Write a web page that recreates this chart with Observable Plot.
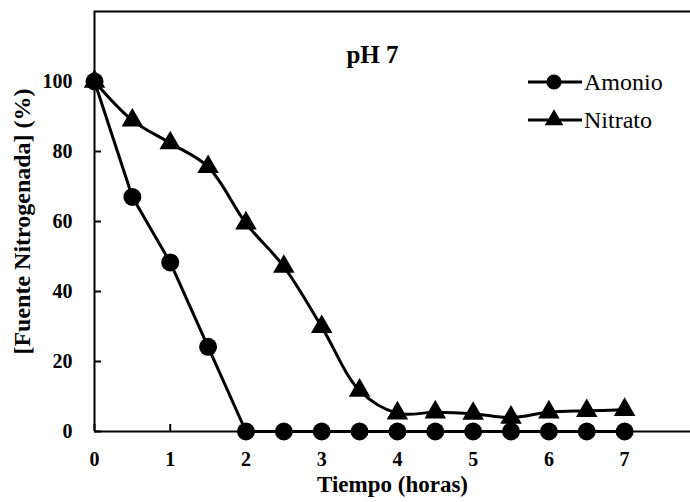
<!DOCTYPE html>
<html><head><meta charset="utf-8">
<script src="https://cdn.jsdelivr.net/npm/d3@7"></script>
<script src="https://cdn.jsdelivr.net/npm/@observablehq/plot@0.6"></script>
<style>
body{margin:0;background:#fff}
#wrap{position:relative;width:690px;height:502px}
#legend{position:absolute;left:526px;top:63px;color:#000}
#legend div{display:flex;align-items:center;height:38px}
#legend svg{display:block}
</style></head><body><div id="wrap"><div id="legend"></div></div>
<script>
const tiempo = [0, 0.5, 1, 1.5, 2, 2.5, 3, 3.5, 4, 4.5, 5, 5.5, 6, 6.5, 7];
const amonio = [100, 67, 48.3, 24.2, 0, 0, 0, 0, 0, 0, 0, 0, 0, 0, 0];
const nitrato = [100, 88.9, 82.4, 75.6, 59.5, 47.1, 29.9, 11.7, 5.2, 5.5, 5.1, 4.0, 5.5, 5.9, 6.2];
const series = ["Amonio", "Nitrato"];
const xTicks = [0, 1, 2, 3, 4, 5, 6, 7];
const yTicks = [0, 20, 40, 60, 80, 100];
const xDomain = [0, 7.87];
const yDomain = [0, 120];
const titulo = "pH 7";
const xLabel = "Tiempo (horas)";
const yLabel = "[Fuente Nitrogenada] (%)";
const FONT = "Liberation Serif";

const amData = tiempo.map((t, i) => ({t, v: amonio[i]}));
const niData = tiempo.map((t, i) => ({t, v: nitrato[i]}));

const chart = Plot.plot({
  width: 690,
  height: 502,
  marginLeft: 94,
  marginRight: 0,
  marginTop: 11,
  marginBottom: 71,
  style: {background: "#fff", color: "#000"},
  x: {domain: xDomain},
  y: {domain: yDomain},
  marks: [
    Plot.axisY(yTicks, {tickSize: -7, tickPadding: 29, strokeWidth: 2, label: null, fontFamily: FONT, fontSize: 20, fontWeight: "bold"}),
    Plot.axisX(xTicks, {tickSize: -7, tickPadding: 27, strokeWidth: 2, label: null, fontFamily: FONT, fontSize: 20, fontWeight: "bold"}),
    Plot.ruleX([xDomain[0]], {strokeWidth: 2}),
    Plot.ruleY([yDomain[0]], {strokeWidth: 2}),
    Plot.ruleY([yDomain[1]], {strokeWidth: 2}),
    Plot.line(niData, {x: "t", y: "v", strokeWidth: 3, curve: "catmull-rom"}),
    Plot.line(amData, {x: "t", y: "v", strokeWidth: 3}),
    Plot.dot(niData, {x: "t", y: "v", symbol: "triangle", r: 8, fill: "#000", stroke: null}),
    Plot.dot(amData, {x: "t", y: "v", symbol: "circle", r: 9, fill: "#000", stroke: null}),
    Plot.text([titulo], {frameAnchor: "top", dx: -20, dy: 34, fontFamily: FONT, fontSize: 25, fontWeight: "bold"}),
    Plot.text([xLabel], {frameAnchor: "bottom", dy: 60, fontFamily: FONT, fontSize: 23, fontWeight: "bold"}),
    Plot.text([yLabel], {frameAnchor: "left", textAnchor: "middle", dx: -72, rotate: -90, fontFamily: FONT, fontSize: 24, fontWeight: "bold"})
  ]
});
document.getElementById("wrap").prepend(chart);

const legend = document.getElementById("legend");
const symbols = [d3.symbolCircle, d3.symbolTriangle];
const sizes = [180, 150];
series.forEach((name, i) => {
  const row = document.createElement("div");
  const svg = d3.create("svg").attr("width", 58).attr("height", 24);
  svg.append("line").attr("x1", 2).attr("x2", 56).attr("y1", 12).attr("y2", 12).attr("stroke", "#000").attr("stroke-width", 3);
  svg.append("path").attr("d", d3.symbol(symbols[i], sizes[i])()).attr("transform", "translate(28,12)").attr("fill", "#000");
  row.append(svg.node());
  const span = document.createElement("span");
  span.setAttribute("style", "font-family:'Liberation Serif';font-size:24px;color:#000");
  span.textContent = name;
  row.append(span);
  legend.append(row);
});
</script>
</body></html>
